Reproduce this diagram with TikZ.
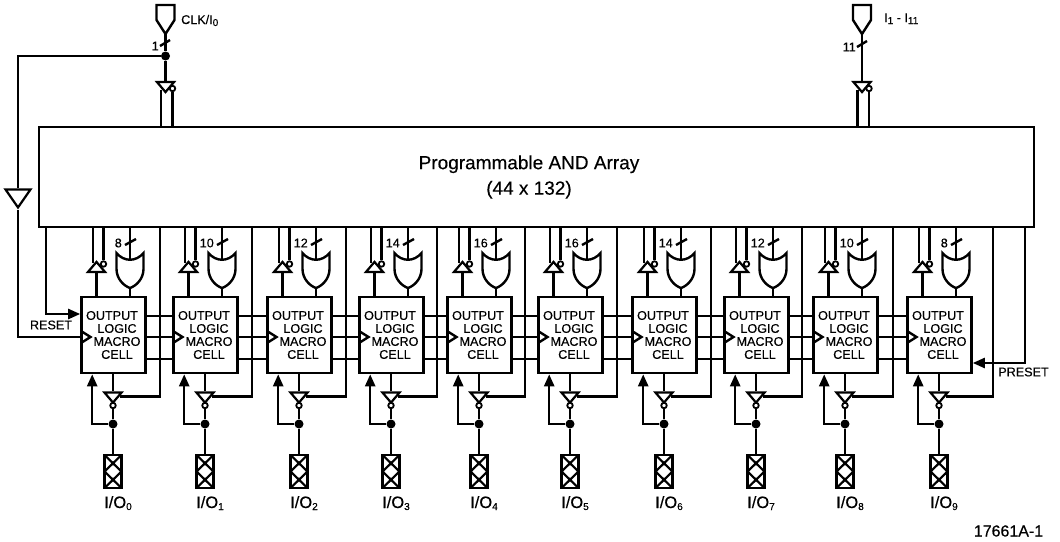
\documentclass[tikz,border=0pt]{standalone}
\usepackage{fontspec}
\setmainfont{Liberation Sans}[FakeBold=0.3]
\usepackage{tikz}
\usetikzlibrary{arrows.meta, shapes.geometric}
\newcommand{\subidx}[1]{\raisebox{-2pt}{\fontsize{10}{10}\selectfont #1}}
\newcommand{\mcname}{OUTPUT\hspace*{3pt}\\\hspace*{7pt}LOGIC\\\hspace*{7pt}MACRO\\\hspace*{7pt}CELL}
\begin{document}
\begin{tikzpicture}[x=1pt, y=-1pt,
      wire/.style={line width=2.4pt},
      pfeil/.style={-{Triangle[length=12pt, width=10pt]}, line width=2.4pt},
      feld/.style={draw, line width=2.6pt, minimum width=995pt, minimum height=100pt},
      mcell/.style={draw, line width=2.6pt, minimum width=64pt, minimum height=76pt, inner sep=0pt,
        align=center, font=\fontsize{12.6}{13}\selectfont},
      bufbase/.style={draw, fill=white, line width=2.2pt, isosceles triangle, isosceles triangle stretches,
        inner sep=0pt, minimum width=17pt, minimum height=10pt},
      bufdown/.style={bufbase, shape border rotate=-90},
      bufup/.style={bufbase, shape border rotate=90},
      bubble/.style={draw, fill=white, circle, line width=1.8pt, inner sep=0pt, minimum size=5.5pt},
      punkt/.style={fill=black, circle, inner sep=0pt, minimum size=9pt},
      iopad/.style={draw, line width=2.6pt, inner sep=0pt, minimum width=17pt, minimum height=33pt,
        path picture={\draw[line width=2.2pt]
          (path picture bounding box.north west) -- (path picture bounding box.east)
          -- (path picture bounding box.south west)
          (path picture bounding box.north east) -- (path picture bounding box.west)
          -- (path picture bounding box.south east);}},
      klein/.style={inner sep=0pt, font=\fontsize{12.6}{13}\selectfont},
      iotext/.style={inner sep=0pt, anchor=base west, font=\fontsize{16.5}{18}\selectfont},
      orgate/.pic={
        \draw[wire, fill=white] (-13.5,0) .. controls (-6,9) and (6,9) .. (13.5,0) -- (13.5,16)
          .. controls (13.5,26) and (6,33) .. (0,35) .. controls (-6,33) and (-13.5,26) .. (-13.5,16) -- cycle;
        \coordinate (-in) at (0,6.7);
        \coordinate (-out) at (0,35);},
      inpad/.pic={
        \draw[wire, fill=white] (-9,0) -- (9,0) -- (9,15) -- (0,29) -- (-9,15) -- cycle;
        \coordinate (-out) at (0,29);}]
    \useasboundingbox (0,0) rectangle (1060,541);
    \node[feld] (array) at (536.5,177) {};
    \node[inner sep=0pt, align=center, font=\fontsize{19}{25.5}\selectfont] (arraytext) at (529,177)
      {Programmable AND Array\\(44 x 132)};
    % eingaenge
    \pic (clkpad) at (165.5,5) {inpad};
    \node[punkt] (clkdot) at (165.5,56) {};
    \node[bufdown] (clkbuf) at (165.5,86) {};
    \node[bubble] (clkbub) at (172.5,88.5) {};
    \coordinate (clktick) at (165,43);
    \coordinate (clkleft) at ([shift={(-4.5,-5)}]clkbuf.apex);
    \node[klein, anchor=east] (clkcount) at (159,46) {1};
    \node[klein, anchor=base west] (clktext) at (181,24) {CLK/I\subidx{0}};
    \pic (inpad) at (862,5) {inpad};
    \node[bufdown] (inbuf) at (862,86) {};
    \node[bubble] (inbub) at (869,88.5) {};
    \coordinate (intick) at (862,44);
    \coordinate (inleft) at ([shift={(-4.5,-5)}]inbuf.apex);
    \node[klein, anchor=east] (incount) at (856,47) {11};
    \node[klein, anchor=base west] (intext) at (884,22) {I\subidx{1} - I\subidx{11}};
    \draw[wire] (clkpad-out) -- (clkdot) -- (clkbuf.north);
    \draw[wire] ([shift={(-5,3)}]clktick) -- ([shift={(5,-3)}]clktick);
    \draw[wire] (clkleft) -- (clkleft |- array.north);
    \draw[wire] (clkbub.south) -- (clkbub.south |- array.north);
    \draw[wire] (inpad-out) -- (inbuf.north);
    \draw[wire] ([shift={(-5,3)}]intick) -- ([shift={(5,-3)}]intick);
    \draw[wire] (inleft) -- (inleft |- array.north);
    \draw[wire] (inbub.south) -- (inbub.south |- array.north);
    % makrozellen
    \foreach \i/\X/\fb/\n in {0/81/160/8, 1/173/252/10, 2/267/346/12, 3/359/437/14, 4/447/525/16,
        5/538/617/16, 6/632/711/14, 7/724/802/12, 8/813/893/10, 9/907/993/8} {
      \node[mcell] (cell\i) at (\X+32.5,335) {\mcname};
      \draw[wire] (\X,331) -- (\X+9.5,337) -- (\X,343);
      \node[bufup] (upbuf\i) at (\X+15.5,268) {};
      \node[bubble] (upbub\i) at (\X+22.5,264) {};
      \pic (orgate\i) at (\X+49,253) {orgate};
      \coordinate (ortick\i) at (\X+49,242);
      \coordinate (upleft\i) at ([shift={(-3.5,4)}]upbuf\i.apex);
      \node[klein, anchor=east] (count\i) at (\X+41,243) {\n};
      \node[bufdown] (inv\i) at (\X+32,396.5) {};
      \node[bubble] (invbub\i) at (\X+32,405.5) {};
      \node[punkt] (dot\i) at (\X+32,424) {};
      \node[iopad] (pad\i) at (\X+32,471.5) {};
      \node[iotext] (iotext\i) at (\X+23,508) {I/O\subidx{\i}};
      \coordinate (fb\i) at (\fb,397);
      \draw[wire] (upleft\i) -- (upleft\i |- array.south);
      \draw[wire] (upbub\i.north) -- (upbub\i.north |- array.south);
      \draw[wire] (upbuf\i.south) -- (upbuf\i.south |- cell\i.north);
      \draw[wire] (orgate\i-in) -- (orgate\i-in |- array.south);
      \draw[wire] ([shift={(-5,3)}]ortick\i) -- ([shift={(6,-3)}]ortick\i);
      \draw[wire] (orgate\i-out) -- (orgate\i-out |- cell\i.north);
      \draw[wire] (array.south -| fb\i) |- (inv\i.east);
      \draw[wire] (inv\i.north |- cell\i.south) -- (inv\i.north);
      \draw[wire] (invbub\i) -- (dot\i) -- (pad\i);
      \draw[pfeil] (dot\i) -| ([xshift=12pt]cell\i.south west);
    }
    \foreach \i/\j in {0/1, 1/2, 2/3, 3/4, 4/5, 5/6, 6/7, 7/8, 8/9} {
      \draw[wire] ([yshift=19pt]cell\i.east) -- ([yshift=19pt]cell\j.west);
      \draw[wire] ([yshift=-2pt]cell\i.east) -- ([yshift=-2pt]cell\j.west);
      \draw[wire] ([yshift=-24pt]cell\i.east) -- ([yshift=-24pt]cell\j.west);
    }
    % takt, reset, preset
    \node[bufdown, minimum width=25pt, minimum height=18pt] (clkdrv) at (18,196) {};
    \coordinate (resetdrop) at (46,314);
    \coordinate (presetdrop) at (1025,363);
    \draw[wire] (clkdot) -| (clkdrv.north);
    \draw[wire] (clkdrv.south) |- ([yshift=-2pt]cell0.west);
    \draw[pfeil] (array.south -| resetdrop) |- ([yshift=21pt]cell0.west);
    \draw[pfeil] (array.south -| presetdrop) |- ([yshift=-28pt]cell9.east);
    \node[klein] (resettext) at (51,325) {RESET};
    \node[klein] (presettext) at (1023.5,372) {PRESET};
    \node[inner sep=0pt, font=\fontsize{16}{18}\selectfont] (partnum) at (1008.5,531) {17661A-1};
  \end{tikzpicture}
\end{document}
